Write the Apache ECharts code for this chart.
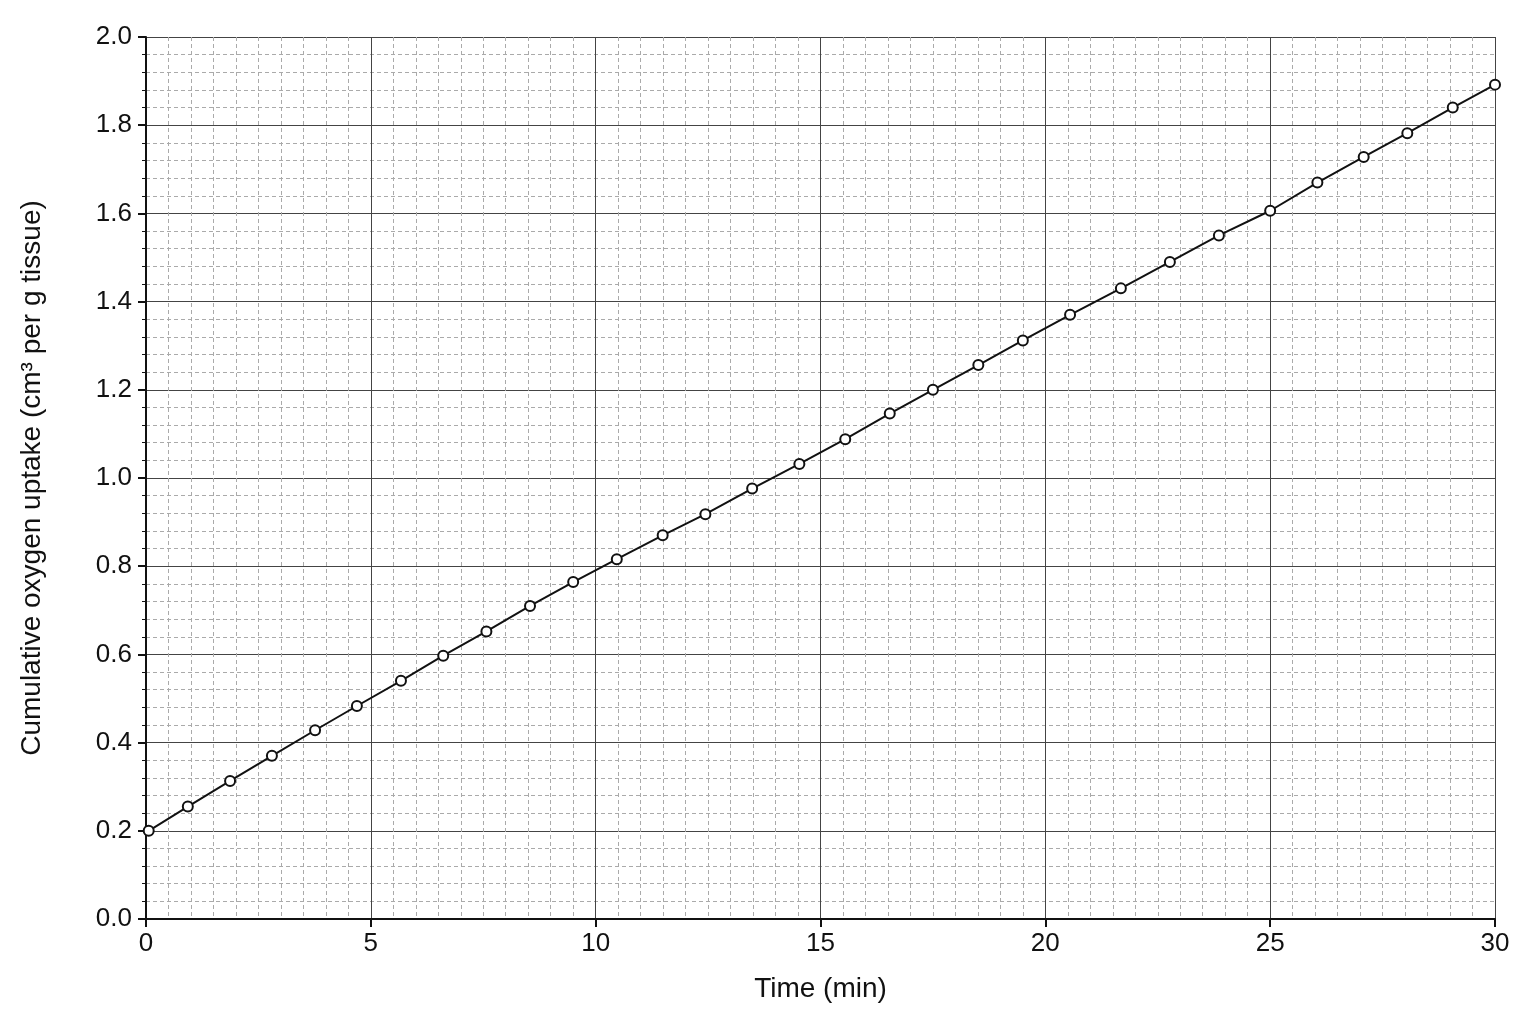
<!DOCTYPE html><html><head><meta charset="utf-8"><script src="https://cdn.jsdelivr.net/npm/echarts@6/dist/echarts.min.js"></script>
<style>html,body{margin:0;background:#fff}#c{width:1536px;height:1024px}</style></head><body><div id="c"></div><script>
const timeMin=[0.06,0.93,1.87,2.8,3.76,4.69,5.67,6.61,7.57,8.54,9.5,10.47,11.49,12.44,13.48,14.53,15.55,16.54,17.5,18.51,19.5,20.55,21.68,22.77,23.86,25.0,26.05,27.08,28.05,29.06,30.0];
const uptake=[0.2,0.255,0.313,0.37,0.428,0.483,0.54,0.597,0.652,0.71,0.764,0.816,0.87,0.918,0.976,1.032,1.088,1.146,1.2,1.256,1.312,1.37,1.43,1.49,1.55,1.606,1.67,1.728,1.782,1.84,1.892];
const xName='Time (min)', yName='Cumulative oxygen uptake (cm³ per g tissue)';
const ch=echarts.init(document.getElementById('c'));
const font='Liberation Sans';
ch.setOption({animation:false,
grid:{left:146,right:41,top:37,bottom:105},
xAxis:{type:'value',min:0,max:30,interval:5,name:xName,nameLocation:'middle',nameGap:56,
nameTextStyle:{fontSize:28,color:'#111',fontFamily:font},
axisLabel:{fontSize:26,color:'#111',fontFamily:font,margin:12},
axisLine:{lineStyle:{color:'#111',width:2}},axisTick:{length:8,lineStyle:{color:'#111',width:2}},
splitLine:{show:true,lineStyle:{color:'#444',width:1}},
minorTick:{show:false,splitNumber:10},
minorSplitLine:{show:true,lineStyle:{color:'#aaa',width:1,type:[4,3]}}},
yAxis:{type:'value',min:0,max:2,interval:0.2,name:yName,nameLocation:'middle',nameGap:100,
nameTextStyle:{fontSize:28,color:'#111',fontFamily:font},
axisLabel:{fontSize:26,color:'#111',fontFamily:font,margin:14,formatter:v=>v.toFixed(1)},
axisLine:{show:true,lineStyle:{color:'#111',width:2}},axisTick:{show:true,length:8,lineStyle:{color:'#111',width:2}},
splitLine:{show:true,lineStyle:{color:'#444',width:1}},
minorTick:{show:true,splitNumber:5,length:4,lineStyle:{color:'#111'}},
minorSplitLine:{show:true,lineStyle:{color:'#aaa',width:1,type:[4,3]}}},
series:[{type:'line',data:timeMin.map((t,i)=>[t,uptake[i]]),symbol:'circle',symbolSize:10,
lineStyle:{color:'#111',width:2},itemStyle:{color:'#fff',borderColor:'#111',borderWidth:2}}]
});
</script></body></html>
